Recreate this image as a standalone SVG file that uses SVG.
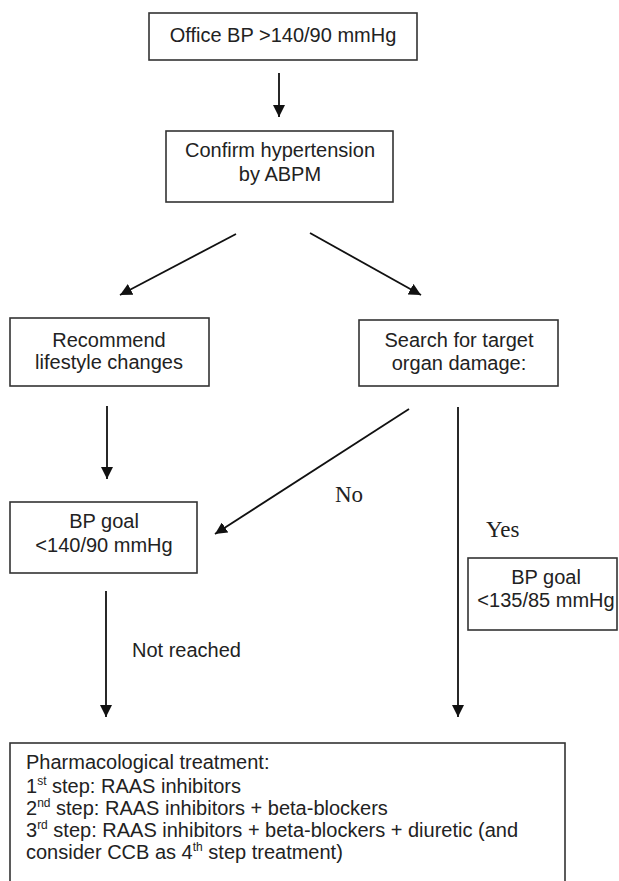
<svg xmlns="http://www.w3.org/2000/svg" width="619" height="881" viewBox="0 0 619 881">
<defs>
<marker id="arr" markerUnits="userSpaceOnUse" markerWidth="13" markerHeight="12" refX="12" refY="6" orient="auto">
<path d="M0,0 L12,6 L0,12 z" fill="#111"/>
</marker>
<style>
.box{fill:#fff;stroke:#333;stroke-width:1.6}
.t{font-family:"Liberation Sans",Arial,sans-serif;font-size:20px;fill:#222}
.c{text-anchor:middle}
.s{font-family:"Liberation Serif","Times New Roman",serif;font-size:23px;fill:#222}
.ln{stroke:#111;stroke-width:1.8;fill:none}
.sup{font-size:12px}
</style>
</defs>
<rect width="619" height="881" fill="#fff"/>
<g id="connectors">
<line class="ln" x1="279" y1="73" x2="279" y2="117" marker-end="url(#arr)"/>
<line class="ln" x1="236" y1="234" x2="120" y2="295" marker-end="url(#arr)"/>
<line class="ln" x1="310" y1="233" x2="421" y2="295" marker-end="url(#arr)"/>
<line class="ln" x1="107" y1="406" x2="107" y2="479" marker-end="url(#arr)"/>
<line class="ln" x1="409" y1="409" x2="215" y2="534" marker-end="url(#arr)"/>
<line class="ln" x1="458" y1="407" x2="458" y2="717" marker-end="url(#arr)"/>
<line class="ln" x1="106" y1="591" x2="106" y2="717" marker-end="url(#arr)"/>
<text class="s" x="335" y="502">No</text>
<text class="s" x="486" y="537">Yes</text>
<text class="t" x="132" y="657">Not reached</text>
</g>
<g id="office">
<rect class="box" x="149" y="13" width="268" height="47"/>
<text class="t c" x="283" y="42">Office BP &gt;140/90 mmHg</text>
</g>
<g id="confirm">
<rect class="box" x="166" y="131" width="227" height="71"/>
<text class="t c" x="280" y="157">Confirm hypertension</text>
<text class="t c" x="280" y="181">by ABPM</text>
</g>
<g id="lifestyle">
<rect class="box" x="10" y="318" width="199" height="68"/>
<text class="t c" x="109" y="347">Recommend</text>
<text class="t c" x="109" y="369">lifestyle changes</text>
</g>
<g id="search">
<rect class="box" x="359" y="320" width="199" height="66"/>
<text class="t c" x="459" y="347">Search for target</text>
<text class="t c" x="459" y="370">organ damage:</text>
</g>
<g id="goal140">
<rect class="box" x="10" y="502" width="187" height="71"/>
<text class="t c" x="104" y="528">BP goal</text>
<text class="t c" x="104" y="552">&lt;140/90 mmHg</text>
</g>
<g id="goal135">
<rect class="box" x="468" y="558" width="149" height="72"/>
<text class="t c" x="546" y="584">BP goal</text>
<text class="t c" x="546" y="607">&lt;135/85 mmHg</text>
</g>
<g id="treatment">
<rect class="box" x="10" y="743" width="555" height="150"/>
<text class="t" x="26" y="769">Pharmacological treatment:</text>
<text class="t" x="26" y="793">1<tspan class="sup" dy="-8">st</tspan><tspan dy="8"> step: RAAS inhibitors</tspan></text>
<text class="t" x="26" y="815">2<tspan class="sup" dy="-8">nd</tspan><tspan dy="8"> step: RAAS inhibitors + beta-blockers</tspan></text>
<text class="t" x="26" y="837">3<tspan class="sup" dy="-8">rd</tspan><tspan dy="8"> step: RAAS inhibitors + beta-blockers + diuretic (and</tspan></text>
<text class="t" x="26" y="859">consider CCB as 4<tspan class="sup" dy="-8">th</tspan><tspan dy="8"> step treatment)</tspan></text>
</g>
</svg>
